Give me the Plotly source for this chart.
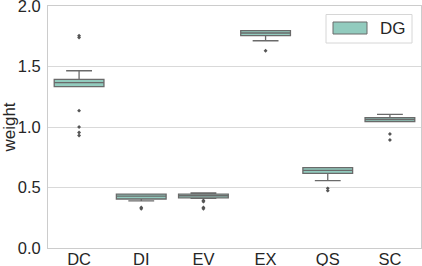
import plotly.graph_objects as go

categories = ["DC", "DI", "EV", "EX", "QS", "SC"]
q1 = [1.333, 0.405, 0.415, 1.755, 0.617, 1.044]
median = [1.366, 0.428, 0.432, 1.777, 0.642, 1.062]
q3 = [1.394, 0.446, 0.445, 1.796, 0.664, 1.077]
lowerfence = [1.333, 0.390, 0.410, 1.713, 0.556, 1.044]
upperfence = [1.465, 0.446, 0.455, 1.796, 0.664, 1.105]

outlier_x = ["DC", "DC", "DC", "DC", "DC", "DC",
             "DI", "DI",
             "EV", "EV", "EV", "EV",
             "EX",
             "QS", "QS",
             "SC", "SC"]
outlier_y = [1.755, 1.740, 1.135, 1.000, 0.955, 0.930,
             0.335, 0.325,
             0.392, 0.383, 0.335, 0.325,
             1.630,
             0.493, 0.474,
             0.942, 0.893]

y_ticks = [0.0, 0.5, 1.0, 1.5, 2.0]
series_name = "DG"

fill = "#92cbbe"
edge = "#6a6a6a"
font = "Liberation Sans, Arial, sans-serif"

fig = go.Figure()
fig.add_trace(go.Box(
    x=categories, q1=q1, median=median, q3=q3,
    lowerfence=lowerfence, upperfence=upperfence,
    name=series_name, fillcolor=fill,
    line=dict(color=edge, width=1.3),
    width=0.8, whiskerwidth=0.52, boxpoints=False,
    showlegend=False,
))
fig.add_trace(go.Scatter(
    x=outlier_x, y=outlier_y, mode="markers",
    marker=dict(symbol="diamond", size=3, color="#555555"),
    showlegend=False, hoverinfo="y",
))

# legend drawn in paper coordinates
fig.add_shape(type="rect", xref="paper", yref="paper",
              x0=(326 - 48) / 373, x1=(412 - 48) / 373,
              y0=(248 - 43) / 242, y1=(248 - 14.5) / 242,
              line=dict(color="#d6d6d6", width=1), fillcolor="rgba(255,255,255,0.8)")
fig.add_shape(type="rect", xref="paper", yref="paper",
              x0=(333 - 48) / 373, x1=(367 - 48) / 373,
              y0=(248 - 34) / 242, y1=(248 - 22) / 242,
              line=dict(color=edge, width=1), fillcolor=fill)
fig.add_annotation(xref="paper", yref="paper",
                   x=(378 - 48) / 373, y=(248 - 28.5) / 242,
                   xanchor="left", yanchor="middle", showarrow=False,
                   text=series_name, font=dict(size=17, color="#262626", family=font))

fig.update_layout(
    width=422, height=266,
    margin=dict(l=48, r=1, t=6, b=18, autoexpand=False),
    paper_bgcolor="white", plot_bgcolor="white",
    font=dict(family=font, size=16, color="#262626"),
    showlegend=False,
    xaxis=dict(
        type="category", categoryorder="array", categoryarray=categories,
        range=[-0.5, 5.5], showgrid=False, zeroline=False, automargin=False,
        showline=True, linecolor="#cccccc", linewidth=1, mirror=True,
        ticks="", ticklabelstandoff=-4, ticklabeloverflow="allow",
        tickfont=dict(size=16.5, family=font, color="#262626"),
    ),
    yaxis=dict(
        range=[0, 2], tickvals=y_ticks, ticktext=[f"{v:.1f}" for v in y_ticks],
        showgrid=True, gridcolor="#d9d9d9", gridwidth=1, zeroline=False,
        automargin=False,
        showline=True, linecolor="#cccccc", linewidth=1, mirror=True,
        ticks="", ticklabelstandoff=3, ticklabeloverflow="allow",
        tickfont=dict(size=16.5, family=font, color="#262626"),
        title=dict(text="weight", font=dict(size=17, family=font, color="#262626"), standoff=4),
    ),
)

fig.write_html("out.html", config={"displayModeBar": False},
               post_script="document.body.style.margin='0px';document.body.style.padding='0px';")
